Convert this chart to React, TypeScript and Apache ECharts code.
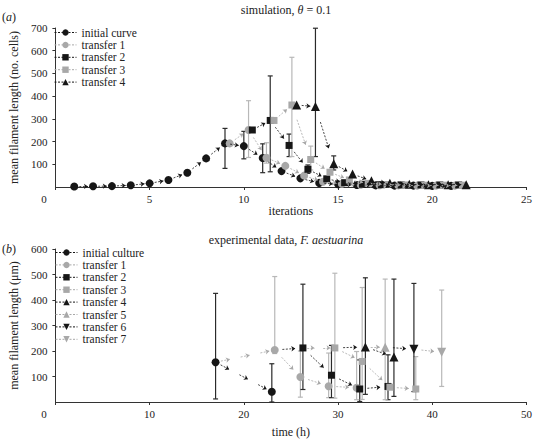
import React, { useEffect, useRef } from 'react';
import * as echarts from 'echarts';

// ---------- (a) simulation, theta = 0.1 ----------
const simInitX = [1, 2, 3, 4, 5, 6, 7, 8, 9, 10, 11, 12, 13, 14, 15, 16, 17, 18, 19, 20, 21];
const simInitY = [2, 3, 4, 8, 16, 31, 63, 126, 192, 180, 128, 70, 38, 18, 12, 9, 7, 6, 6, 5, 5];
const simInitErr = [[9, 82, 258], [10, 124, 245], [11, 63, 190]];

const simT1X = [9.25, 10.25, 11.2, 12.2, 13.2, 14.2, 15.2, 16.2, 17.2, 18.2, 19.2, 20.2, 21.2];
const simT1Y = [192, 251, 129, 93, 50, 23, 14, 10, 8, 7, 6, 6, 6];
const simT1Err = [[10.25, 130, 380], [11.2, 105, 195]];

const simT2X = [10.45, 11.4, 12.4, 13.4, 14.4, 15.35, 16.3, 17.3, 18.35, 19.4, 20.4, 21.4];
const simT2Y = [251, 293, 183, 78, 36, 19, 12, 10, 9, 9, 9, 9];
const simT2Err = [[11.4, 67, 489], [12.4, 134, 233], [13.4, 60, 97]];

const simT3X = [11.6, 12.55, 13.55, 14.57, 15.6, 16.6, 17.6, 18.6, 19.6, 20.6, 21.6];
const simT3Y = [293, 361, 121, 65, 31, 16, 11, 9, 8, 8, 8];
const simT3Err = [[12.55, 134, 571], [13.55, 75, 180]];

const simT4X = [12.8, 13.8, 14.77, 15.77, 16.77, 17.75, 18.78, 19.8, 20.84, 21.8];
const simT4Y = [361, 354, 102, 57, 27, 16, 12, 10, 10, 10];
const simT4Err = [[13.8, 134, 699], [14.77, 75, 137]];

const simNames = ['initial curve', 'transfer 1', 'transfer 2', 'transfer 3', 'transfer 4'];

// ---------- (b) experimental data, F. aestuarina ----------
const expInitX = [17.0, 22.97];
const expInitY = [156, 40];
const expInitErr = [[17.0, 12, 426], [22.97, 0, 150]];

const expT1X = [23.28, 26.0, 29.0, 31.97];
const expT1Y = [204, 98, 62, 56];
const expT1Err = [[23.28, 190, 492], [26.0, 19, 200], [29.0, 17, 192], [31.97, 9, 198]];

const expT2X = [26.27, 29.3, 32.3, 35.3];
const expT2Y = [212, 105, 51, 61];
const expT2Err = [[26.27, 49, 462], [29.3, 17, 222], [32.3, 2, 165], [35.3, 9, 185]];

const expT3X = [29.66, 32.56, 35.5, 38.25];
const expT3Y = [212, 159, 58, 51];
const expT3Err = [[29.66, 15, 505], [32.56, 10, 449], [38.25, 9, 178]];

const expT4X = [32.9, 35.93];
const expT4Y = [216, 176];
const expT4Err = [[32.9, 30, 487], [35.93, 22, 482]];

const expT5X = [35.0];
const expT5Y = [215];
const expT5Err = [[35.0, 9, 482]];

const expT6X = [38.05];
const expT6Y = [207];
const expT6Err = [[38.05, 41, 465]];

const expT7X = [41.0];
const expT7Y = [195];
const expT7Err = [[41.0, 61, 439]];

const expNames = ['initial culture', 'transfer 1', 'transfer 2', 'transfer 3', 'transfer 4', 'transfer 5', 'transfer 6', 'transfer 7'];
// each transfer starts from the first point of the previous series
const expOrigins = [null, 0, 1, 2, 3, 4, 5, 6];

const simXTicks = { min: 0, max: 25, interval: 5 };
const simYTicks = { min: 0, max: 700, interval: 100 };
const expXTicks = { min: 0, max: 50, interval: 10 };
const expYTicks = { min: 0, max: 600, interval: 100 };

// ---------- styles ----------
const FONT = 'Liberation Serif';
const TXT = '#222';
const BLACK = '#161616';
const GRAY = '#a8a8a8';
const BLACK_ERR = '#2a2a2a';
const GRAY_ERR = '#b8b8b8';
const INV_TRI = 'path://M0,0L10,0L5,9Z';
const FS = 12;
const FS_LEG = 11.5;
const FS_TICK = 11;

const styles = [
  { color: BLACK, err: BLACK_ERR, symbol: 'circle', size: 8 },
  { color: GRAY, err: GRAY_ERR, symbol: 'circle', size: 8 },
  { color: BLACK, err: BLACK_ERR, symbol: 'rect', size: 7 },
  { color: GRAY, err: GRAY_ERR, symbol: 'rect', size: 7 },
  { color: BLACK, err: BLACK_ERR, symbol: 'triangle', size: 9 },
  { color: GRAY, err: GRAY_ERR, symbol: 'triangle', size: 9 },
  { color: BLACK, err: BLACK_ERR, symbol: INV_TRI, size: 9 },
  { color: GRAY, err: GRAY_ERR, symbol: INV_TRI, size: 9 },
];

function zip(xs: number[], ys: number[]) {
  return xs.map((x, i) => [x, ys[i]]);
}

function arrowSegs(pts: number[][], step: number) {
  const out: any[] = [];
  for (let i = 0; i < pts.length - 1; i++) {
    const [x1, y1] = pts[i];
    const [x2, y2] = pts[i + 1];
    const n = Math.max(1, Math.round((x2 - x1) / step));
    for (let k = 0; k < n; k++) {
      const a = (k + 0.27) / n;
      const b = (k + 0.73) / n;
      out.push([
        { coord: [x1 + (x2 - x1) * a, y1 + (y2 - y1) * a] },
        { coord: [x1 + (x2 - x1) * b, y1 + (y2 - y1) * b] },
      ]);
    }
  }
  return out;
}

function errSeries(name: string, err: number[][], color: string, axis: number) {
  return {
    name,
    type: 'custom',
    xAxisIndex: axis,
    yAxisIndex: axis,
    z: 1,
    silent: true,
    data: err,
    encode: { x: 0, y: [1, 2] },
    renderItem: (params: any, api: any) => {
      const x = api.value(0);
      const top = api.coord([x, api.value(2)]);
      const bot = api.coord([x, api.value(1)]);
      const w = 2.5;
      const style = { stroke: color, lineWidth: 1.2 };
      return {
        type: 'group',
        children: [
          { type: 'line', shape: { x1: top[0], y1: top[1], x2: bot[0], y2: bot[1] }, style },
          { type: 'line', shape: { x1: top[0] - w, y1: top[1], x2: top[0] + w, y2: top[1] }, style },
          { type: 'line', shape: { x1: bot[0] - w, y1: bot[1], x2: bot[0] + w, y2: bot[1] }, style },
        ],
      };
    },
  };
}

function lineSeries(name: string, pts: number[][], arrowPts: number[][], st: any, axis: number, step: number) {
  return {
    name,
    type: 'line',
    xAxisIndex: axis,
    yAxisIndex: axis,
    z: 3,
    data: pts,
    symbol: st.symbol,
    symbolSize: st.size,
    showSymbol: true,
    itemStyle: { color: st.color, opacity: 1 },
    lineStyle: { color: st.color, type: [2, 1.5], width: 1, opacity: 0 },
    emphasis: { disabled: true },
    markLine: {
      silent: true,
      symbol: ['none', 'arrow'],
      symbolSize: 4,
      label: { show: false },
      emphasis: { disabled: true },
      lineStyle: { color: st.color, type: [2, 1.5], width: 0.8, opacity: 1 },
      data: arrowSegs(arrowPts, step),
    },
  };
}

function axisCommon() {
  return {
    axisLine: { show: true, onZero: false, lineStyle: { color: '#333', width: 1 } },
    axisTick: { show: true, inside: false, length: 3, lineStyle: { color: '#333' } },
    splitLine: { show: false },
    axisLabel: { color: TXT, fontFamily: FONT, fontSize: FS_TICK },
    nameTextStyle: { color: TXT, fontFamily: FONT, fontSize: FS },
  };
}

function xLabel() {
  return {
    color: TXT,
    fontFamily: FONT,
    fontSize: FS_TICK,
    margin: 6,
    formatter: (v: number) => (v === 0 ? '{z|0}' : String(v)),
    rich: { z: { color: TXT, fontFamily: FONT, fontSize: FS_TICK, padding: [0, 23, 0, 0] } },
  };
}

function legendData(names: string[]) {
  return names.map((n, i) => ({
    name: n,
    lineStyle: { color: styles[i].color, opacity: 1, type: [2, 1.5], width: 1 },
  }));
}

export default function App() {
  const ref = useRef<HTMLDivElement>(null);

  useEffect(() => {
    if (!ref.current) return;
    const chart = echarts.init(ref.current, undefined, { renderer: 'svg' });

    const simPts = [
      zip(simInitX, simInitY),
      zip(simT1X, simT1Y),
      zip(simT2X, simT2Y),
      zip(simT3X, simT3Y),
      zip(simT4X, simT4Y),
    ];
    const simErrs = [simInitErr, simT1Err, simT2Err, simT3Err, simT4Err];

    const expPts = [
      zip(expInitX, expInitY),
      zip(expT1X, expT1Y),
      zip(expT2X, expT2Y),
      zip(expT3X, expT3Y),
      zip(expT4X, expT4Y),
      zip(expT5X, expT5Y),
      zip(expT6X, expT6Y),
      zip(expT7X, expT7Y),
    ];
    const expErrs = [expInitErr, expT1Err, expT2Err, expT3Err, expT4Err, expT5Err, expT6Err, expT7Err];

    const series: any[] = [];
    simNames.forEach((n, i) => {
      series.push(errSeries('sim-err-' + i, simErrs[i], styles[i].err, 0));
    });
    expNames.forEach((n, i) => {
      series.push(errSeries('exp-err-' + i, expErrs[i], styles[i].err, 1));
    });
    simNames.forEach((n, i) => {
      series.push(lineSeries(n, simPts[i], simPts[i], styles[i], 0, 1.3));
    });
    expNames.forEach((n, i) => {
      const o = expOrigins[i];
      const arrowPts = o === null ? expPts[i] : [expPts[o][0], ...expPts[i]];
      series.push(lineSeries(n, expPts[i], arrowPts, styles[i], 1, 2.2));
    });

    const c = axisCommon();
    const rich = {
      n: { fontFamily: FONT, fontSize: FS, fill: TXT },
      i: { fontFamily: FONT, fontSize: FS, fontStyle: 'italic', fill: TXT },
    };
    const legendCommon = {
      orient: 'vertical',
      padding: 0,
      itemWidth: 22,
      itemHeight: 8,
      itemGap: 0.4,
      selectedMode: false,
      textStyle: { color: TXT, fontFamily: FONT, fontSize: FS_LEG, lineHeight: 11.5 },
    };

    chart.setOption({
      animation: false,
      backgroundColor: '#ffffff',
      textStyle: { fontFamily: FONT },
      grid: [
        { left: 45, right: 7, top: 28, height: 159, containLabel: false },
        { left: 45, right: 6, top: 249, height: 153, containLabel: false },
      ],
      xAxis: [
        {
          ...c,
          type: 'value',
          gridIndex: 0,
          ...simXTicks,
          name: 'iterations',
          nameLocation: 'middle',
          nameGap: 18,
          axisLabel: xLabel(),
        },
        {
          ...c,
          type: 'value',
          gridIndex: 1,
          ...expXTicks,
          name: 'time (h)',
          nameLocation: 'middle',
          nameGap: 24,
          axisLabel: xLabel(),
        },
      ],
      yAxis: [
        {
          ...c,
          type: 'value',
          gridIndex: 0,
          ...simYTicks,
          name: 'mean filament length (no. cells)',
          nameLocation: 'middle',
          nameGap: 31,
          axisLabel: { ...c.axisLabel, showMinLabel: false, margin: 8 },
        },
        {
          ...c,
          type: 'value',
          gridIndex: 1,
          ...expYTicks,
          name: 'mean filament length (μm)',
          nameLocation: 'middle',
          nameGap: 31,
          axisLabel: { ...c.axisLabel, showMinLabel: false, margin: 8 },
        },
      ],
      legend: [
        { ...legendCommon, left: 54, top: 26.5, data: legendData(simNames) },
        { ...legendCommon, left: 55, top: 246.5, data: legendData(expNames) },
      ],
      graphic: [
        {
          type: 'text',
          x: 286,
          y: 10,
          silent: true,
          style: { text: '{n|simulation, }{i|θ}{n| = 0.1}', align: 'center', verticalAlign: 'middle', rich },
        },
        {
          type: 'text',
          x: 2,
          y: 17,
          silent: true,
          style: { text: '{n|(}{i|a}{n|)}', align: 'left', verticalAlign: 'middle', rich },
        },
        {
          type: 'text',
          x: 286,
          y: 240,
          silent: true,
          style: { text: '{n|experimental data, }{i|F. aestuarina}', align: 'center', verticalAlign: 'middle', rich },
        },
        {
          type: 'text',
          x: 2,
          y: 249,
          silent: true,
          style: { text: '{n|(}{i|b}{n|)}', align: 'left', verticalAlign: 'middle', rich },
        },
      ],
      series,
    });

    return () => {
      chart.dispose();
    };
  }, []);

  return (
    <div
      ref={ref}
      style={{ position: 'absolute', left: 0, top: 0, width: 535, height: 439, background: '#fff' }}
    />
  );
}
